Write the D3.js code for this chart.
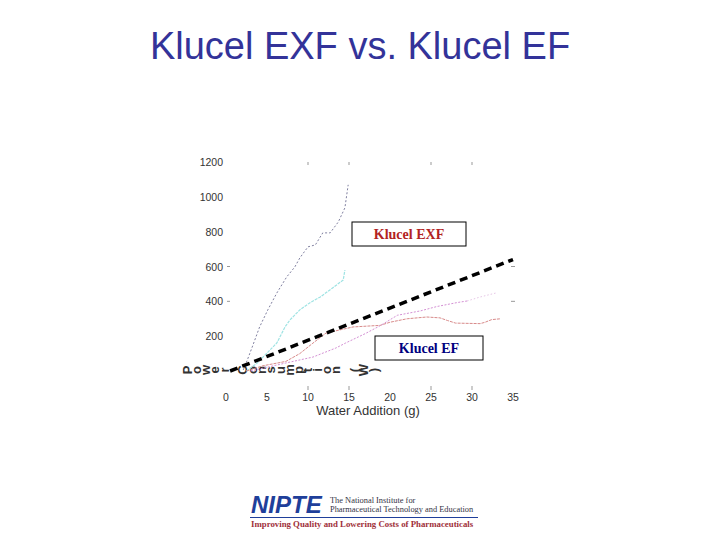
<!DOCTYPE html>
<html>
<head>
<meta charset="utf-8">
<script src="https://cdn.jsdelivr.net/npm/d3@7"></script>
<style>
  body { margin: 0; background: #fff; }
  svg { display: block; }
</style>
</head>
<body>
<div id="chart"></div>
<script>
// Axis ticks
const xTicks = [0, 5, 10, 15, 20, 25, 30, 35];
const yTicks = [200, 400, 600, 800, 1000, 1200];

// Klucel EXF runs (power vs water added)
const exfGray = [[2.1, 6], [2.6, 63], [3.2, 138], [4.1, 253], [5.1, 351], [6.2, 448], [7.4, 540],
  [8.4, 598], [9.0, 649], [10.0, 713], [10.9, 724], [11.8, 793], [12.7, 793], [13.7, 856],
  [14.5, 937], [14.9, 1069]];
const exfCyan = [[2.5, 0], [3.8, 46], [5.0, 103], [6.2, 161], [7.2, 253], [7.8, 293], [9.0, 351],
  [10.2, 391], [11.5, 425], [13.0, 477], [14.3, 523], [14.5, 580]];

// Klucel EF runs
const efRed = [[2.5, 0], [4.5, 30], [7.3, 55], [9, 100], [10.6, 160], [12.2, 218], [15.5, 253],
  [18.8, 262], [20, 280], [22.1, 300], [24.5, 310], [26.1, 305], [27, 290], [28, 275],
  [31, 272], [31.6, 280], [32.4, 295], [33.5, 300]];
const efPink = [[3, 0], [7.3, 46], [10.6, 80], [13.4, 132], [14.6, 161], [17, 215], [18.8, 260],
  [20.9, 320], [23.7, 345], [25.7, 370], [28.2, 393], [29.4, 402]];
const efPinkTail = [[29.4, 402], [31, 425], [33.1, 450]];

// Trend line
const trend = [[0.5, 0], [35, 640]];

// Garbled axis title as it appears in the picture
const yTitle = "Power Consumption (W)";

const width = 720, height = 540;
const svg = d3.select("#chart").append("svg")
  .attr("width", width)
  .attr("height", height);

const x = d3.scaleLinear().domain([0, 35]).range([226, 513]);
const y = d3.scaleLinear().domain([0, 1200]).range([371, 162]);

// Title
svg.append("text")
  .attr("x", 360)
  .attr("y", 59)
  .attr("text-anchor", "middle")
  .attr("font-family", "Liberation Sans, Arial, sans-serif")
  .attr("font-size", 38)
  .attr("fill", "#333399")
  .text("Klucel EXF vs. Klucel EF");

// Tick labels
svg.selectAll(".ylab")
  .data(yTicks)
  .enter()
  .append("text")
  .attr("x", 223)
  .attr("y", d => y(d) + 4)
  .attr("text-anchor", "end")
  .attr("font-family", "Liberation Sans, Arial, sans-serif")
  .attr("font-size", 10.5)
  .attr("fill", "#333")
  .text(d => d);

svg.selectAll(".xlab")
  .data(xTicks)
  .enter()
  .append("text")
  .attr("x", d => x(d))
  .attr("y", 401)
  .attr("text-anchor", "middle")
  .attr("font-family", "Liberation Sans, Arial, sans-serif")
  .attr("font-size", 10.5)
  .attr("fill", "#333")
  .text(d => d);

// Faint tick marks that survived in the image
const tickStyle = sel => sel.attr("stroke", "#999").attr("stroke-width", 1);
[10, 15, 25, 30].forEach(t => {
  svg.append("line").attr("x1", x(t)).attr("x2", x(t))
    .attr("y1", y(1200)).attr("y2", y(1200) + 3).call(tickStyle);
  svg.append("line").attr("x1", x(t)).attr("x2", x(t))
    .attr("y1", 386).attr("y2", 390).call(tickStyle);
});
[400, 600].forEach(t => {
  svg.append("line").attr("x1", 227).attr("x2", 230)
    .attr("y1", y(t)).attr("y2", y(t)).call(tickStyle);
  svg.append("line").attr("x1", x(35) - 2).attr("x2", x(35) + 2)
    .attr("y1", y(t)).attr("y2", y(t)).call(tickStyle);
});

// X axis title
svg.append("text")
  .attr("x", 368)
  .attr("y", 415)
  .attr("text-anchor", "middle")
  .attr("font-family", "Liberation Sans, Arial, sans-serif")
  .attr("font-size", 13)
  .attr("fill", "#333")
  .text("Water Addition (g)");

// Y axis title, drawn with each glyph turned like in the reference
svg.append("g")
  .selectAll("text")
  .data(yTitle.split(""))
  .enter()
  .append("text")
  .attr("transform", (d, i) => `translate(${187 + i * 9.3},370) rotate(-90)`)
  .attr("text-anchor", "middle")
  .attr("dy", "0.35em")
  .attr("font-family", "Liberation Sans, Arial, sans-serif")
  .attr("font-size", 13)
  .attr("font-weight", "bold")
  .attr("fill", "#333")
  .text(d => d);

// Data lines
const line = d3.line().x(d => x(d[0])).y(d => y(d[1]));

svg.append("path").datum(exfGray)
  .attr("d", line).attr("fill", "none")
  .attr("stroke", "#8080a0").attr("stroke-width", 1)
  .attr("stroke-dasharray", "2,2");

svg.append("path").datum(exfCyan)
  .attr("d", line).attr("fill", "none")
  .attr("stroke", "#9ee3e3").attr("stroke-width", 1.2)
  .attr("stroke-dasharray", "3,1");

svg.append("path").datum(efRed)
  .attr("d", line).attr("fill", "none")
  .attr("stroke", "#d88a8a").attr("stroke-width", 1)
  .attr("stroke-dasharray", "3,1");

svg.append("path").datum(efPink)
  .attr("d", line).attr("fill", "none")
  .attr("stroke", "#d490d4").attr("stroke-width", 1)
  .attr("stroke-dasharray", "2,1.5");

svg.append("path").datum(efPinkTail)
  .attr("d", line).attr("fill", "none")
  .attr("stroke", "#e6c6e6").attr("stroke-width", 1)
  .attr("stroke-dasharray", "1.5,2");

svg.append("path").datum(trend)
  .attr("d", line).attr("fill", "none")
  .attr("stroke", "#000").attr("stroke-width", 3.5)
  .attr("stroke-dasharray", "8,5");

// Legend boxes
function labelBox(bx, by, bw, bh, txt, color) {
  svg.append("rect")
    .attr("x", bx).attr("y", by).attr("width", bw).attr("height", bh)
    .attr("fill", "#fff").attr("stroke", "#000").attr("stroke-width", 1);
  svg.append("text")
    .attr("x", bx + bw / 2).attr("y", by + bh / 2 + 5)
    .attr("text-anchor", "middle")
    .attr("font-family", "Liberation Serif, Times New Roman, serif")
    .attr("font-weight", "bold")
    .attr("font-size", 14)
    .attr("fill", color)
    .text(txt);
}
labelBox(352, 222, 114, 24, "Klucel EXF", "#b22222");
labelBox(375, 336, 108, 24, "Klucel EF", "#000080");

// NIPTE footer
svg.append("text")
  .attr("x", 251).attr("y", 513)
  .attr("font-family", "Liberation Sans, Arial, sans-serif")
  .attr("font-weight", "bold").attr("font-style", "italic")
  .attr("font-size", 24)
  .attr("fill", "#1f3f9a")
  .text("NIPTE");
svg.append("text")
  .attr("x", 330).attr("y", 503)
  .attr("font-family", "Liberation Serif, Times New Roman, serif")
  .attr("font-size", 8.4)
  .attr("fill", "#334")
  .text("The National Institute for");
svg.append("text")
  .attr("x", 330).attr("y", 512)
  .attr("font-family", "Liberation Serif, Times New Roman, serif")
  .attr("font-size", 8.4)
  .attr("fill", "#334")
  .text("Pharmaceutical Technology and Education");
svg.append("line")
  .attr("x1", 250).attr("x2", 478).attr("y1", 517.5).attr("y2", 517.5)
  .attr("stroke", "#1f3f9a").attr("stroke-width", 1);
svg.append("text")
  .attr("x", 251).attr("y", 527)
  .attr("font-family", "Liberation Serif, Times New Roman, serif")
  .attr("font-weight", "bold")
  .attr("font-size", 8.8)
  .attr("fill", "#a0303a")
  .text("Improving Quality and Lowering Costs of Pharmaceuticals");
</script>
</body>
</html>
